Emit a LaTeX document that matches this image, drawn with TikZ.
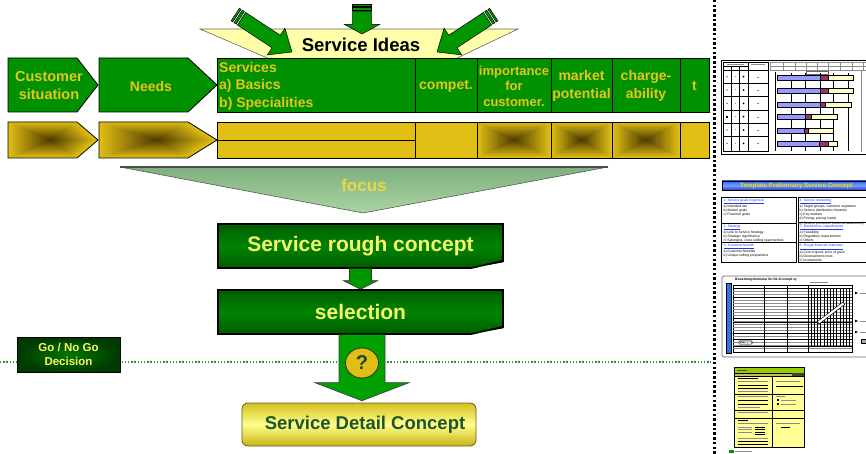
\documentclass[tikz,border=0pt]{standalone}
\usepackage{fontspec}
\setmainfont{Liberation Sans}
\usetikzlibrary{calc,shapes.geometric}

\definecolor{rowgreen}{RGB}{0,145,0}
\definecolor{goldtext}{RGB}{230,196,30}
\definecolor{shgold}{RGB}{224,190,20}
\definecolor{shdark}{RGB}{80,60,0}
\definecolor{ideayellow}{RGB}{255,255,170}
\definecolor{arrowgreen}{RGB}{0,150,0}
\definecolor{biggreen}{RGB}{0,160,0}
\definecolor{boxgreen}{RGB}{0,132,0}
\definecolor{boxdark}{RGB}{0,92,0}
\definecolor{lightyel}{RGB}{245,245,110}
\definecolor{focusyel}{RGB}{232,215,70}
\definecolor{focustop}{RGB}{128,176,128}
\definecolor{focusbot}{RGB}{168,212,160}
\definecolor{dotgreen}{RGB}{40,150,40}
\definecolor{detailtext}{RGB}{28,85,40}
\definecolor{detailin}{RGB}{255,255,140}
\definecolor{detailtop}{RGB}{212,192,30}
\definecolor{detailbot}{RGB}{200,178,20}
\definecolor{gogreenin}{RGB}{0,118,0}
\definecolor{gogreenout}{RGB}{0,58,0}
\definecolor{questc}{RGB}{30,70,55}
\definecolor{ganttblue}{RGB}{153,153,255}
\definecolor{ganttred}{RGB}{153,51,102}
\definecolor{ganttyel}{RGB}{255,255,204}
\definecolor{titleblue}{RGB}{60,100,235}
\definecolor{titlelight}{RGB}{120,160,255}
\definecolor{titledark}{RGB}{30,60,200}
\definecolor{titletext}{RGB}{235,225,0}
\definecolor{headblue}{RGB}{30,60,230}
\definecolor{formblue}{RGB}{40,120,230}
\definecolor{formyel}{RGB}{255,255,150}
\definecolor{formlime}{RGB}{153,204,0}
\definecolor{formbar}{RGB}{190,190,110}

% golden fill that darkens towards the centre of the shape
\newcommand\pyramidfill[2]{%
  \foreach \k in {0,...,29}{%
    \pgfmathsetmacro\pyrsc{1-\k/30}%
    \pgfmathtruncatemacro\pyrpc{\k*100/29}%
    \fill[shdark!\pyrpc!shgold, shift={#1}, scale=\pyrsc] #2;%
  }}

% striped block arrow: tip x, tip y, angle, length, shaft half width, head half width, head length
\newcommand\ideaarrow[7]{%
  \begin{scope}[shift={(#1,#2)}, rotate=#3]
    \filldraw[fill=arrowgreen, draw=black, line width=0.5pt]
      (0,0) -- (-#7,#6) -- (-#7,#5) -- ({-#4+7.5},#5) -- ({-#4+7.5},-#5)
      -- (-#7,-#5) -- (-#7,-#6) -- cycle;
    \filldraw[fill=arrowgreen, draw=black, line width=0.5pt] (-#4,-#5) rectangle ({-#4+2},#5);
    \filldraw[fill=arrowgreen, draw=black, line width=0.5pt] ({-#4+3.5},-#5) rectangle ({-#4+6},#5);
  \end{scope}}

% folded lower right corner of a dark box
\newcommand\boxcurl[1]{%
  \fill[white] ($(#1.south east)+(-36,1)$) -- ($(#1.south east)+(1,1)$) -- ($(#1.south east)+(1,-7)$) -- cycle;
  \fill[black] ($(#1.south east)+(-38,0)$) -- ($(#1.south east)+(0,-6.5)$)
    -- ($(#1.south east)+(0,-9)$) -- ($(#1.south east)+(-22,-4)$) -- cycle;}

\begin{document}
\begin{tikzpicture}[x=1pt, y=-1pt,
  rowbox/.style={fill=rowgreen, draw=black, line width=0.8pt},
  rowtext/.style={text=goldtext, inner sep=0pt, align=center, font=\fontsize{14}{17.5}\selectfont\bfseries},
  goldedge/.style={draw=black, line width=0.8pt},
  goldbox/.style={fill=shgold, draw=black, line width=0.8pt},
  darkbox/.style={draw=black, line width=1.4pt, top color=boxdark, bottom color=boxdark, middle color=boxgreen,
    minimum width=285pt, minimum height=44pt, inner sep=0pt, text=lightyel, font=\fontsize{21}{25}\selectfont\bfseries},
  thumbtext/.style={inner sep=0pt, anchor=north west, align=left, font=\fontsize{3.4}{2.9}\selectfont},
  thinline/.style={black!45, line width=0.4pt},
  textbar/.style={black, line width=0.7pt},
]
\useasboundingbox (0,0) rectangle (866,454);

% ---------------- service ideas banner and incoming arrows
\filldraw[fill=ideayellow, draw=black!60, line width=0.6pt] (200,29) -- (518,29) -- (453,60) -- (272,60) -- cycle;
\node (ideas) at (361,45) [inner sep=0pt, font=\fontsize{18.5}{20}\selectfont\bfseries] {Service Ideas};
\ideaarrow{292}{52}{-33.4}{68}{7.5}{16}{19}
\ideaarrow{437}{52}{-146.6}{68}{7.5}{16}{19}
\ideaarrow{362}{34}{-90}{30}{9.3}{17.5}{9.5}

% ---------------- green criteria row
\path[rowbox] (8,58) -- (77,58) -- (98,85) -- (77,112) -- (8,112) -- cycle;
\path[rowbox] (99,58) -- (188,58) -- (217,85) -- (188,112) -- (99,112) -- cycle;
\path[rowbox] (217,58) rectangle (415,112);
\path[rowbox] (415,58) rectangle (477,112);
\path[rowbox] (477,58) rectangle (551,112);
\path[rowbox] (551,58) rectangle (612,112);
\path[rowbox] (612,58) rectangle (680,112);
\path[rowbox] (680,58) rectangle (709,112);

\node[rowtext, font=\fontsize{14.5}{18}\selectfont\bfseries] (cust) at (49,86) {Customer\\situation};
\node[rowtext] (needs) at (151,86) {Needs};
\node[rowtext, align=left, anchor=west] (serv) at (219,86) {Services\\a) Basics\\b) Specialities};
\node[rowtext] (compet) at (446,86) {compet.};
\node[rowtext, font=\fontsize{13}{15.5}\selectfont\bfseries] (import) at (514,86) {importance\\for\\customer.};
\node[rowtext] (market) at (581.5,86) {market\\potential};
\node[rowtext] (charge) at (646,86) {charge-\\ability};
\node[rowtext] (tcol) at (694.5,86) {t};

% ---------------- golden evaluation row
\pyramidfill{(51,140)}{(-43,-18) -- (26,-18) -- (47,0) -- (26,18) -- (-43,18) -- cycle}
\draw[goldedge] (8,122) -- (77,122) -- (98,140) -- (77,158) -- (8,158) -- cycle;
\pyramidfill{(157,140)}{(-58,-18) -- (31,-18) -- (60,0) -- (31,18) -- (-58,18) -- cycle}
\draw[goldedge] (99,122) -- (188,122) -- (217,140) -- (188,158) -- (99,158) -- cycle;
\path[goldbox] (217,122) rectangle (415,140);
\path[goldbox] (217,140) rectangle (415,158);
\path[goldbox] (415,122) rectangle (477,158);
\pyramidfill{(514,140)}{(-37,-18) rectangle (37,18)}
\draw[goldedge] (477,122) rectangle (551,158);
\pyramidfill{(581.5,140)}{(-30.5,-18) rectangle (30.5,18)}
\draw[goldedge] (551,122) rectangle (612,158);
\pyramidfill{(646,140)}{(-34,-18) rectangle (34,18)}
\draw[goldedge] (612,122) rectangle (680,158);
\path[goldbox] (680,122) rectangle (709,158);

% ---------------- focus funnel
\shade[top color=focustop, bottom color=focusbot] (120,167) -- (608,167) -- (363,213) -- cycle;
\draw[black!65, line width=0.6pt] (120,167) -- (363,213) -- (608,167);
\draw[black!70, line width=1.5pt] (120,167) -- (608,167);
\node (focus) at (364,185) [inner sep=0pt, text=focusyel, font=\fontsize{17}{20}\selectfont\bfseries] {focus};

% ---------------- decision line
\draw[dotgreen, line width=1.3pt, dash pattern=on 1.3pt off 1.9pt] (0,362) -- (711,362);

% ---------------- concept boxes
\node[darkbox] (rough) at (360.5,246) {Service rough concept};
\node[darkbox] (sel) at (360.5,312) {selection};
\boxcurl{rough}
\boxcurl{sel}

\filldraw[fill=arrowgreen, draw=black!80, line width=0.6pt]
  ($(rough.south)+(-11,0)$) -- ($(rough.south)+(-11,12)$) -- ($(rough.south)+(-17,12)$)
  -- (sel.north) -- ($(rough.south)+(17,12)$) -- ($(rough.south)+(11,12)$) -- ($(rough.south)+(11,0)$);

\node (detail) at (359,424.5) [draw={rgb,255:red,100;green,90;blue,30}, line width=0.8pt, rounded corners=6pt,
  minimum width=234pt, minimum height=43pt, inner sep=0pt,
  top color=detailtop, bottom color=detailbot, middle color=detailin,
  text=detailtext, font=\fontsize{18.5}{20}\selectfont\bfseries] {\hspace*{12pt}Service Detail Concept};

\coordinate (bt) at ($(sel.south)+(1.5,0)$);
\filldraw[fill=biggreen, draw=black!75, line width=0.7pt]
  ($(bt)+(-23,0)$) -- ($(bt)+(-23,48)$) -- ($(bt)+(-47,48)$) -- ($(bt)+(0,66)$)
  -- ($(bt)+(47,48)$) -- ($(bt)+(23,48)$) -- ($(bt)+(23,0)$);
\node (quest) at (362,363) [ellipse, draw=black!85, line width=0.7pt, fill=shgold, minimum width=33pt,
  minimum height=30pt, inner sep=0pt, text=questc, font=\fontsize{20}{22}\selectfont\bfseries] {?};

\node (gonogo) at (68.5,354.5) [draw=black, line width=0.8pt, minimum width=103pt, minimum height=35pt,
  inner sep=0pt, inner color=gogreenin, outer color=gogreenout, text=lightyel, align=center,
  font=\fontsize{11.5}{14}\selectfont\bfseries] {Go / No Go\\Decision};

% ---------------- separator
\draw[line width=2.5pt, dash pattern=on 2.5pt off 2.2pt] (714.5,0) -- (714.5,454);

% ---------------- thumbnail: evaluation table with time bars
\draw[line width=0.9pt] (870,60) -- (721.5,60) -- (721.5,154) -- (870,154);
\draw[line width=0.7pt] (723,62) rectangle (768.5,151);
\foreach \yy in {70,83.3,96.7,110,123.3,136.7} \draw[line width=0.7pt] (723,\yy) -- (768.5,\yy);
\draw[line width=0.7pt] (748,62) -- (748,151);
\draw[line width=0.4pt] (731,66) -- (731,151) (739,66) -- (739,151) (723,66) -- (748,66);
\draw[thinline] (727,64) -- (744,64) (751,64) -- (765,64);
\foreach \yy in {76.7,90,103.3,116.7,130,143.3}{
  \fill (727,\yy) circle (0.6);
  \fill[black!45] (734.5,\yy-0.5) rectangle (735.5,\yy+0.5);
  \fill (743.5,\yy) circle (1);
  \fill[black!50] (757,\yy) rectangle (759,\yy+0.4);
}
\fill (726,115.7) rectangle (728,117.7);
\draw[thinline] (770,62) -- (870,62) (770,66) -- (870,66) (770,70) -- (870,70);
\foreach \xx in {770,783,795,806,817,828,840,852,863} \draw[thinline] (\xx,62) -- (\xx,70);
\draw[thinline] (861,70) -- (861,152);
\draw[black!60, line width=0.3pt] (806,71.5) rectangle (828,74);
\draw[line width=0.6pt] (775,72) -- (775,151);
\foreach \xx in {791,805,820,833,848} \draw[line width=0.6pt] (\xx,73) -- (\xx,151);
\foreach \yt/\bb/\mm/\ee in {75/820/828/853, 88/820/828/853, 102/820/825/851, 114/805/811/837, 128/804/808/833, 141/819/828/837}{
  \filldraw[fill=ganttblue, draw=black, line width=0.4pt] (777,\yt) rectangle (\bb,\yt+5);
  \filldraw[fill=ganttred, draw=black, line width=0.4pt] (\bb,\yt) rectangle (\mm,\yt+5);
  \filldraw[fill=ganttyel, draw=black, line width=0.4pt] (\mm,\yt) rectangle (\ee,\yt+5);
}

% ---------------- thumbnail: concept template
\shade[top color=titleblue, bottom color=titledark, middle color=titlelight] (722,181) rectangle (870,190);
\draw[line width=0.5pt] (722,181) rectangle (870,190);
\node (tpltitle) at (796.5,185.5) [inner sep=0pt, text=titletext, font=\fontsize{6.2}{7}\selectfont\bfseries] {Template Preliminary Service Concept};
\draw[line width=0.9pt] (721.5,197) rectangle (796.3,262.7);
\draw[line width=0.9pt] (721.5,223) -- (796.3,223) (721.5,242) -- (796.3,242);
\draw[line width=0.9pt] (798,197) rectangle (870,262.7);
\draw[line width=0.9pt] (798,222) -- (870,222) (798,242) -- (870,242);
\node[thumbtext] (tpla) at (723.5,198.8) {\textcolor{headblue}{\underline{1. Service goals in general}}\\a) Intended use\\b) Market goals\\c) Financial goals};
\node[thumbtext] (tplb) at (723.5,224.6) {\textcolor{headblue}{\underline{2. Strategy}}\\a) Link to Service Strategy\\b) Strategic significance\\c) Synergies, cross selling opportunities};
\node[thumbtext] (tplc) at (723.5,244.2) {\textcolor{headblue}{\underline{3. Customer benefit}}\\a) Customer benefits\\b) Unique selling propositions};
\node[thumbtext] (tpld) at (799.5,198.6) {\textcolor{headblue}{\underline{4. Service marketing}}\\a) Target groups, customer segments\\b) Service distribution channels\\c) Key markets\\d) Pricing, pricing model\\e) Service promotion (external awareness)};
\node[thumbtext] (tple) at (799.5,224.6) {\textcolor{headblue}{\underline{5. Restrictions, requirements}}\\a) Feasibility\\b) Regulatory requirements\\c) Others};
\node[thumbtext] (tplf) at (799.5,244.2) {\textcolor{headblue}{\underline{6. Rough financial estimates}}\\a) Cost of good, price of good\\b) Development costs\\c) Investments};

% ---------------- thumbnail: rating form
\draw[black!60, line width=0.7pt, rounded corners=1.5pt] (722,276) rectangle (870,357);
\filldraw[fill=formblue, draw=black, line width=0.5pt] (726,283) rectangle (731,353);
\node (formtitle) at (735,280) [inner sep=0pt, anchor=west, font=\fontsize{3.3}{3.3}\selectfont\bfseries] {Bewertungsformular für DL-Konzept xy};
\draw[thinline] (810,282) -- (828,282);
\draw[line width=0.6pt] (733,285) rectangle (852,352);
\foreach \yy in {288,291,...,349} \draw[black!45, line width=0.25pt] (733,\yy) -- (852,\yy);
\foreach \yy in {288,297,318,322,333,339,346} \draw[line width=0.5pt] (733,\yy) -- (852,\yy);
\foreach \xx in {764,787,808} \draw[line width=0.4pt] (\xx,285) -- (\xx,352);
\foreach \xx in {811,814.2,...,851} \draw[line width=0.6pt] (\xx,288) -- (\xx,346);
\draw[line width=3.4pt] (818,323) -- (844,303);
\draw[white, line width=2.2pt] (818.6,322.5) -- (843.4,303.5);
\foreach \yy in {293,321,332}{
  \fill (855,\yy-1.3) -- (858,\yy) -- (855,\yy+1.3) -- cycle;
  \draw[thinline] (859.5,\yy) -- (866,\yy);
}
\node (stufe) at (745.5,342.5) [draw, line width=0.4pt, rounded corners=1pt, fill=white, inner sep=0.6pt,
  font=\fontsize{2.6}{3}\selectfont\bfseries] {Stufe 1 - 3};
\filldraw[fill=black!35, draw=black, line width=0.3pt] (861,339) rectangle (868,343);

% ---------------- thumbnail: detail concept sheet
\filldraw[fill=formyel, draw=black, line width=1pt] (734,367) rectangle (804,447);
\filldraw[fill=formlime, draw=black, line width=0.5pt] (734,367) rectangle (804,373);
\filldraw[fill=formbar, draw=black, line width=0.5pt] (734,373) rectangle (804,376);
\fill[black!75] (792,373.3) rectangle (803.5,375.7);
\draw[black!70, line width=0.6pt] (737,370) -- (747,370);
\draw[line width=0.8pt] (772,376) -- (772,447);
\draw[line width=0.8pt] (734,394) -- (804,394) (734,410) -- (804,410) (734,418) -- (804,418);
\draw[textbar] (738,378.5) -- (758,378.5) (738,385) -- (768,385) (738,388) -- (768,388)
  (776,386) -- (803,386) (738,400) -- (768,400) (738,404) -- (768,404)
  (738,420.5) -- (748,420.5) (738,441) -- (768,441) (738,444) -- (768,444) (781,427) -- (790,427);
\draw[textbar, line width=0.9pt] (755,427) -- (765,427) (755,429.5) -- (765,429.5) (755,432) -- (765,432) (755,434.5) -- (765,434.5);
\draw[thinline] (738,381) -- (768,381) (738,391) -- (768,391) (776,381) -- (800,381)
  (738,396.5) -- (768,396.5) (738,407.5) -- (760,407.5) (776,396) -- (785,396)
  (781,400) -- (796,400) (781,404) -- (796,404) (738,412.5) -- (768,412.5)
  (738,423) -- (768,423) (738,427) -- (752,427) (738,429.5) -- (752,429.5)
  (738,432) -- (752,432) (738,438) -- (768,438) (776,423) -- (800,423);
\fill (776.5,398.8) rectangle (779,401.2);
\fill (776.5,402.8) rectangle (779,405.2);
\fill[rowgreen] (729,449.5) rectangle (733.5,453);
\draw[thinline] (734.5,451.3) -- (752,451.3);
\end{tikzpicture}
\end{document}
